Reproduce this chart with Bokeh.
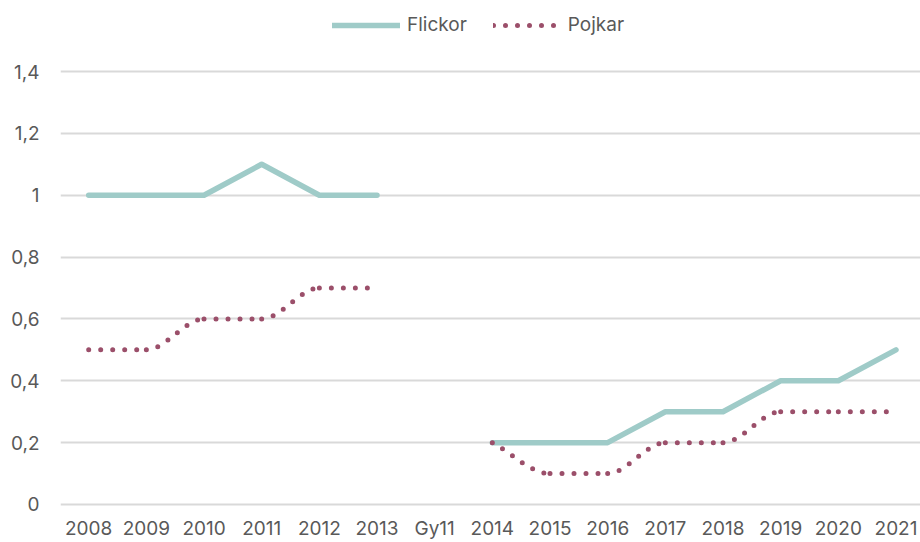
from bokeh.plotting import figure
from bokeh.models import Range1d, FixedTicker, Legend, LegendItem, ColumnDataSource
from bokeh.embed import file_html
from bokeh.resources import INLINE
import math

categories = ["2008", "2009", "2010", "2011", "2012", "2013", "Gy11",
              "2014", "2015", "2016", "2017", "2018", "2019", "2020", "2021"]
flickor = [1.0, 1.0, 1.0, 1.1, 1.0, 1.0, float("nan"),
           0.2, 0.2, 0.2, 0.3, 0.3, 0.4, 0.4, 0.5]
pojkar = [0.5, 0.5, 0.6, 0.6, 0.7, 0.7, float("nan"),
          0.2, 0.1, 0.1, 0.2, 0.2, 0.3, 0.3, 0.3]
y_ticks = [0, 0.2, 0.4, 0.6, 0.8, 1.0, 1.2, 1.4]
y_labels = ["0", "0,2", "0,4", "0,6", "0,8", "1", "1,2", "1,4"]

TEAL = "#9fcbc8"
ROSE = "#9b4f6a"
TEXT = "#595959"
FONT = "Inter"
FS = "19px"

xs = list(range(len(categories)))

p = figure(width=920, height=542, output_backend="svg", toolbar_location=None,
           x_range=Range1d(-0.489, 14.425), y_range=Range1d(-0.0065, 1.6296),
           min_border_left=60, min_border_right=0, min_border_bottom=36,
           min_border_top=0)
p.outline_line_color = None
p.background_fill_color = "white"
p.border_fill_color = "white"

# Flickor: straight line segments
r_f = p.line(xs, flickor, line_color=TEAL, line_width=5.5,
             line_cap="round", line_join="round")

# Pojkar: smoothed (monotone cubic) dotted line drawn as bezier segments
def tangents(y):
    n = len(y)
    m = [0.0] * n
    for k in range(n):
        if math.isnan(y[k]):
            m[k] = float("nan")
            continue
        dl = y[k] - y[k - 1] if k > 0 and not math.isnan(y[k - 1]) else None
        dr = y[k + 1] - y[k] if k < n - 1 and not math.isnan(y[k + 1]) else None
        if dl is None and dr is None:
            m[k] = 0.0
        elif dl is None:
            m[k] = dr
        elif dr is None:
            m[k] = dl
        elif dl * dr <= 0:
            m[k] = 0.0
        else:
            m[k] = (dl + dr) / 2.0
    return m

mp = tangents(pojkar)
seg = dict(x0=[], y0=[], x1=[], y1=[], cx0=[], cy0=[], cx1=[], cy1=[])
for k in range(len(xs) - 1):
    if math.isnan(pojkar[k]) or math.isnan(pojkar[k + 1]):
        continue
    seg["x0"].append(xs[k]); seg["y0"].append(pojkar[k])
    seg["x1"].append(xs[k + 1]); seg["y1"].append(pojkar[k + 1])
    seg["cx0"].append(xs[k] + 1 / 3); seg["cy0"].append(pojkar[k] + mp[k] / 3)
    seg["cx1"].append(xs[k + 1] - 1 / 3); seg["cy1"].append(pojkar[k + 1] - mp[k + 1] / 3)
p.bezier(x0="x0", y0="y0", x1="x1", y1="y1", cx0="cx0", cy0="cy0",
         cx1="cx1", cy1="cy1", source=ColumnDataSource(seg),
         line_color=ROSE, line_width=5, line_dash="0 12", line_cap="round")

# legend proxy for Pojkar (draws nothing in the plot)
r_p = p.line(x=[xs[0]], y=[float("nan")], line_color=ROSE, line_width=5,
             line_dash="0 12", line_cap="round")

legend = Legend(items=[LegendItem(label="Flickor", renderers=[r_f]),
                       LegendItem(label="Pojkar", renderers=[r_p])],
                orientation="horizontal", location=(272, 470),
                glyph_width=68, glyph_height=20, label_standoff=7, spacing=26,
                label_text_font=FONT, label_text_font_size=FS,
                label_text_color=TEXT, border_line_color=None,
                background_fill_alpha=0, padding=0, margin=0)
p.add_layout(legend)

# axes
p.xaxis.ticker = FixedTicker(ticks=xs)
p.xaxis.major_label_overrides = {i: c for i, c in enumerate(categories)}
p.yaxis.ticker = FixedTicker(ticks=y_ticks)
p.yaxis.major_label_overrides = {t: l for t, l in zip(y_ticks, y_labels)}
for ax in (p.xaxis[0], p.yaxis[0]):
    ax.axis_line_color = None
    ax.major_tick_line_color = None
    ax.minor_tick_line_color = None
    ax.major_label_text_font = FONT
    ax.major_label_text_font_size = FS
    ax.major_label_text_color = TEXT
p.xaxis.major_label_standoff = 4
p.yaxis.major_label_standoff = 15

p.xgrid.grid_line_color = None
p.ygrid.ticker = FixedTicker(ticks=y_ticks)
p.ygrid.grid_line_color = "#d9d9d9"
p.ygrid.grid_line_width = 2

open("out.html", "w").write(file_html(p, INLINE))
